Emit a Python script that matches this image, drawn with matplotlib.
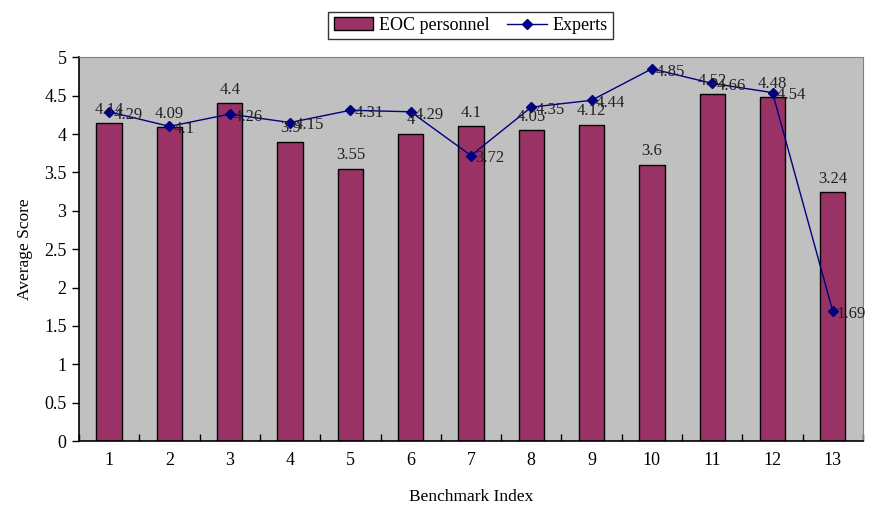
import matplotlib.pyplot as plt
from matplotlib.ticker import FixedLocator

# Data
benchmarks = list(range(1, 14))
eoc_scores = [4.14, 4.09, 4.4, 3.9, 3.55, 4, 4.1, 4.05, 4.12, 3.6, 4.52, 4.48, 3.24]
expert_scores = [4.29, 4.1, 4.26, 4.15, 4.31, 4.29, 3.72, 4.35, 4.44, 4.85, 4.66, 4.54, 1.69]
eoc_labels = ['4.14', '4.09', '4.4', '3.9', '3.55', '4', '4.1', '4.05', '4.12', '3.6', '4.52', '4.48', '3.24']
expert_labels = ['4.29', '4.1', '4.26', '4.15', '4.31', '4.29', '3.72', '4.35', '4.44', '4.85', '4.66', '4.54', '1.69']

plt.rcParams['font.family'] = ['Liberation Serif', 'DejaVu Serif']

fig = plt.figure(figsize=(8.73, 5.07), dpi=100)
ax = fig.add_axes([0.0905, 0.130, 0.898, 0.757])
ax.set_facecolor('#C0C0C0')

# Bars
bars = ax.bar(benchmarks, eoc_scores, width=0.42, color='#993366',
              edgecolor='black', linewidth=1.0, label='EOC personnel', zorder=2)
for x, y, s in zip(benchmarks, eoc_scores, eoc_labels):
    ax.annotate(s, (x, y), xytext=(0, 4), textcoords='offset points',
                ha='center', va='bottom', fontsize=12, color='#222222', zorder=4)

# Expert line
line, = ax.plot(benchmarks, expert_scores, color='#000080', linewidth=1.0, marker='D',
                markersize=5, label='Experts', zorder=3)
for x, y, s in zip(benchmarks, expert_scores, expert_labels):
    ax.annotate(s, (x, y), xytext=(3, -2), textcoords='offset points',
                ha='left', va='center', fontsize=12, color='#222222', zorder=4)

ax.set_xlim(0.5, 13.5)
ax.set_ylim(0, 5)
ax.set_yticks([i * 0.5 for i in range(11)])
ax.set_yticklabels(['0', '0.5', '1', '1.5', '2', '2.5', '3', '3.5', '4', '4.5', '5'])
ax.set_xticks(benchmarks)
ax.set_xticklabels([str(b) for b in benchmarks])
ax.xaxis.set_minor_locator(FixedLocator([b + 0.5 for b in range(0, 14)]))

ax.tick_params(axis='x', which='major', length=0, labelsize=13, pad=8)
ax.tick_params(axis='x', which='minor', direction='in', length=5, width=1)
ax.tick_params(axis='y', direction='out', length=5, width=1, labelsize=13, pad=4)

ax.spines['left'].set_color('black')
ax.spines['bottom'].set_color('black')
ax.spines['left'].set_linewidth(1.2)
ax.spines['bottom'].set_linewidth(1.2)
ax.spines['top'].set_color('#808080')
ax.spines['right'].set_color('#808080')

ax.set_xlabel('Benchmark Index', fontsize=12.5, labelpad=14)
ax.set_ylabel('Average Score', fontsize=12.5, labelpad=8)

leg = fig.legend([bars, line], ['EOC personnel', 'Experts'],
                 loc='upper center', bbox_to_anchor=(0.539, 0.995), ncol=2,
                 fontsize=13, frameon=True, fancybox=False, edgecolor='black',
                 handlelength=2.2, handletextpad=0.3, columnspacing=1.0,
                 borderpad=0.3)
leg.get_frame().set_linewidth(1.0)

fig.savefig('out.png', dpi=100)
